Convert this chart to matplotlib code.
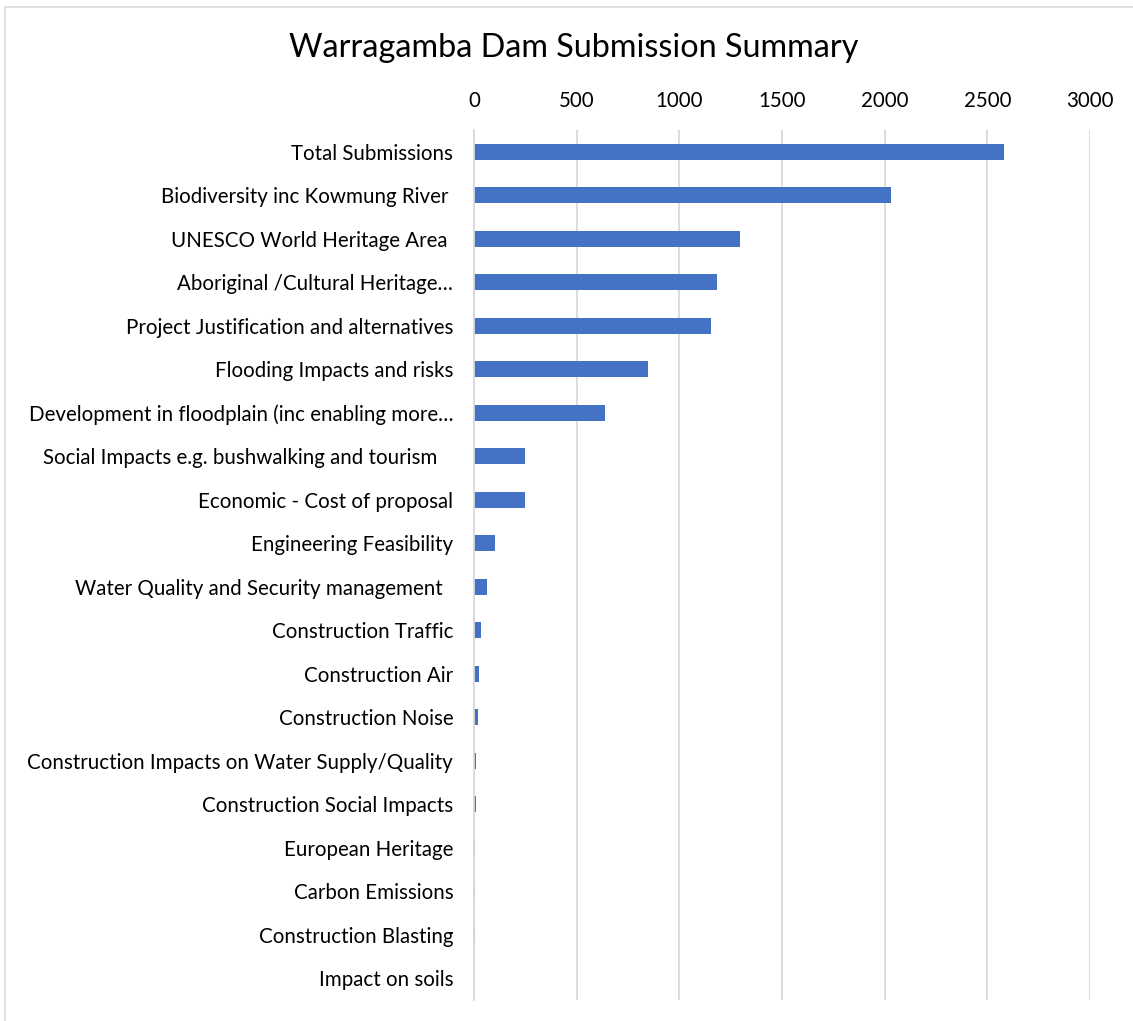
import matplotlib.pyplot as plt
from matplotlib.patches import Rectangle

# ----------------------------- DATA -----------------------------
categories = [
    "Total Submissions",
    "Biodiversity inc Kowmung River ",
    "UNESCO World Heritage Area ",
    "Aboriginal /Cultural Heritage\u2026",
    "Project Justification and alternatives",
    "Flooding Impacts and risks",
    "Development in floodplain (inc enabling more\u2026",
    "Social Impacts e.g. bushwalking and tourism   ",
    "Economic - Cost of proposal",
    "Engineering Feasibility",
    "Water Quality and Security management  ",
    "Construction Traffic",
    "Construction Air",
    "Construction Noise",
    "Construction Impacts on Water Supply/Quality",
    "Construction Social Impacts",
    "European Heritage",
    "Carbon Emissions",
    "Construction Blasting",
    "Impact on soils",
]
counts = [2583, 2033, 1297, 1182, 1152, 849, 637, 250, 248, 100,
          63, 33, 23, 20, 10, 10, 6, 5, 3, 1]
x_ticks = [0, 500, 1000, 1500, 2000, 2500, 3000]
# ----------------------------------------------------------------

plt.rcParams["font.family"] = ["Lato", "DejaVu Sans"]

fig = plt.figure(figsize=(11.33, 10.21), dpi=100)
ax = fig.add_axes([474 / 1133, 1 - 1000 / 1021, (1090 - 474) / 1133, (1000 - 130) / 1021])

# light chart border like the Excel chart area
fig.patches.append(Rectangle((5 / 1133, -0.05), 1.2, 1 - 7 / 1021 + 0.05,
                             transform=fig.transFigure, fill=False,
                             edgecolor="#D9D9D9", linewidth=1.2))

y = list(range(len(categories)))
ax.barh(y, counts, height=0.36, color="#4472C4", zorder=3)

ax.set_ylim(len(categories) - 0.5, -0.5)
ax.set_xlim(0, 3000)
ax.set_yticks(y)
ax.set_yticklabels(categories, fontsize=14.8)
ax.set_xticks(x_ticks)
ax.set_xticklabels([str(t) for t in x_ticks], fontsize=14.8)
ax.xaxis.tick_top()
ax.tick_params(axis="y", length=0, pad=15)
ax.tick_params(axis="x", length=0, pad=14)

ax.grid(axis="x", color="#D9D9D9", linewidth=1.3, zorder=0)
for s in ["top", "right", "bottom"]:
    ax.spines[s].set_visible(False)
ax.spines["left"].set_color("#D9D9D9")
ax.spines["left"].set_linewidth(1.3)
ax.spines["left"].set_zorder(4)

fig.text(574 / 1133, 1 - 48 / 1021, "Warragamba Dam Submission Summary",
         fontsize=23.3, ha="center", va="center", color="#000000")

fig.savefig("out.png", dpi=100)
